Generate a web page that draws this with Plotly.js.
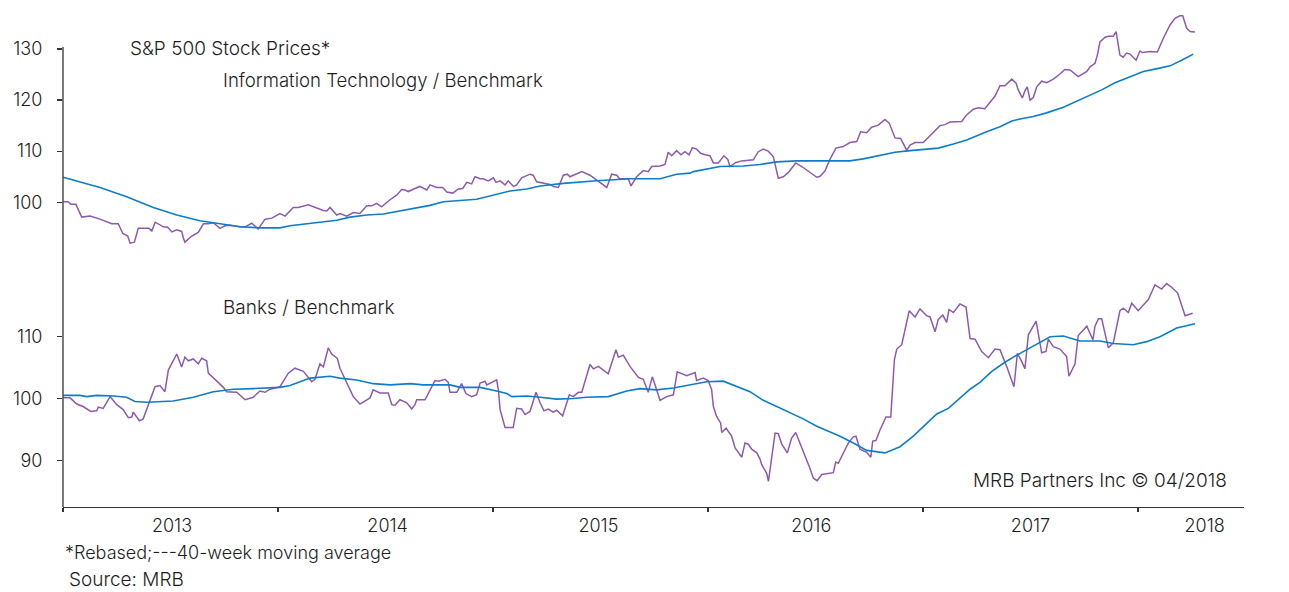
<!DOCTYPE html>
<html><head><meta charset="utf-8">
<script src="https://cdn.plot.ly/plotly-3.0.1.min.js"></script>
<style>html,body{margin:0;padding:0;background:#fff}#chart{width:1289px;height:592px}</style>
</head><body><div id="chart"></div><script>
// ---- Data (decimal years) ----
const itX = [2013.001,2013.023,2013.037,2013.060,2013.087,2013.126,2013.172,2013.227,2013.257,2013.278,2013.301,2013.312,2013.332,2013.350,2013.400,2013.413,2013.429,2013.467,2013.487,2013.506,2013.529,2013.552,2013.560,2013.567,2013.599,2013.629,2013.653,2013.676,2013.699,2013.730,2013.753,2013.777,2013.823,2013.847,2013.878,2013.908,2013.940,2013.971,
2014.009,2014.033,2014.071,2014.094,2014.141,2014.172,2014.211,2014.227,2014.242,2014.273,2014.288,2014.320,2014.350,2014.381,2014.413,2014.436,2014.459,2014.482,2014.521,2014.552,2014.575,2014.591,2014.606,2014.637,2014.660,2014.692,2014.707,2014.738,2014.766,2014.785,2014.813,2014.839,2014.859,2014.878,2014.901,2014.916,2014.940,2014.955,2014.978,
2015.002,2015.014,2015.033,2015.056,2015.071,2015.095,2015.110,2015.133,2015.172,2015.187,2015.203,2015.234,2015.265,2015.281,2015.304,2015.327,2015.346,2015.358,2015.413,2015.451,2015.482,2015.529,2015.552,2015.576,2015.588,2015.629,2015.642,2015.668,2015.699,2015.722,2015.738,2015.777,2015.800,2015.815,2015.831,2015.854,2015.874,2015.893,2015.912,2015.927,2015.947,2015.966,2015.986,
2016.009,2016.025,2016.048,2016.074,2016.092,2016.102,2016.130,2016.157,2016.211,2016.234,2016.257,2016.280,2016.304,2016.327,2016.350,2016.373,2016.408,2016.436,2016.467,2016.506,2016.521,2016.544,2016.567,2016.595,2016.629,2016.660,2016.692,2016.710,2016.738,2016.761,2016.792,2016.823,2016.843,2016.870,2016.896,2016.924,2016.940,2016.963,
2017.001,2017.025,2017.056,2017.079,2017.102,2017.126,2017.180,2017.203,2017.234,2017.257,2017.288,2017.312,2017.335,2017.358,2017.381,2017.413,2017.433,2017.443,2017.462,2017.474,2017.485,2017.498,2017.513,2017.529,2017.552,2017.575,2017.606,2017.637,2017.660,2017.684,2017.715,2017.722,2017.762,2017.777,2017.800,2017.811,2017.823,2017.847,2017.862,2017.885,2017.898,2017.916,2017.931,2017.947,2017.963,2017.991,
2018.009,2018.022,2018.056,2018.090,2018.118,2018.149,2018.172,2018.195,2018.208,2018.226,2018.242,2018.265];
const itValues = [100.1,100.1,99.6,99.6,97.1,97.3,96.7,95.8,95.8,93.9,93.4,92.0,92.2,94.9,94.9,94.4,96.1,95.2,95.1,94.2,94.6,94.3,93.0,92.2,93.4,94.1,95.8,95.8,96.0,94.9,95.4,95.5,95.2,95.2,95.9,94.8,96.7,96.9,
97.8,97.3,99.0,99.0,99.5,99.0,98.4,98.3,99.0,97.5,97.8,97.3,98.0,97.8,99.3,99.3,99.8,99.1,100.5,101.4,102.5,102.4,102.1,102.7,103.1,102.4,103.4,102.9,102.9,102.0,101.8,102.6,102.7,103.9,103.6,105.0,104.6,104.6,104.2,
104.8,103.9,104.2,103.4,104.2,103.1,103.4,104.8,105.5,105.3,104.0,103.8,103.5,103.1,102.9,105.3,105.5,105.0,106.0,105.3,104.4,102.9,105.5,105.3,104.6,104.6,103.2,105.0,106.2,106.0,107.0,107.1,107.4,109.8,109.1,110.1,109.3,109.9,109.3,110.7,110.4,109.6,109.3,
109.1,107.7,107.7,109.1,108.4,107.0,107.8,108.1,108.3,109.9,110.4,110.0,108.9,104.7,105.0,105.8,107.7,107.0,106.0,104.9,105.1,106.1,108.4,110.6,110.9,111.7,111.9,113.8,113.6,114.7,115.1,116.2,115.5,112.6,112.5,110.2,111.2,111.7,
111.7,112.7,114.0,115.0,115.2,115.7,115.8,117.1,118.2,118.5,118.3,119.7,120.8,122.8,122.8,124.1,123.3,122.0,120.4,121.8,122.6,120.0,120.5,122.6,123.7,123.4,124.1,125.1,126.0,125.9,124.9,124.6,125.6,126.5,127.2,128.8,131.4,132.3,132.5,132.5,133.4,128.8,128.4,129.2,129.0,127.8,
129.6,129.3,129.5,129.4,132.1,134.7,136.0,136.5,136.5,134.1,133.4,133.3];

const itMaX = [2013.001,2013.172,2013.296,2013.420,2013.529,2013.637,2013.715,2013.823,2013.916,
2014.009,2014.056,2014.180,2014.273,2014.335,2014.413,2014.490,2014.614,2014.707,2014.769,2014.924,
2015.079,2015.157,2015.219,2015.327,2015.482,2015.544,2015.637,2015.777,2015.854,2015.916,2015.932,
2016.056,2016.164,2016.242,2016.320,2016.413,2016.536,2016.660,2016.722,2016.831,2016.870,2016.940,
2017.071,2017.141,2017.203,2017.296,2017.358,2017.413,2017.451,2017.513,2017.575,2017.653,2017.699,2017.762,2017.831,2017.893,2017.963,
2018.025,2018.095,2018.149,2018.203,2018.257];
const itMaValues = [104.9,102.9,101.1,99.0,97.5,96.4,95.9,95.2,95.0,
95.0,95.4,96.1,96.5,97.1,97.5,97.7,98.6,99.4,100.1,100.6,
102.2,102.6,103.2,103.7,104.2,104.4,104.6,104.6,105.5,105.7,106.0,
107.0,107.1,107.4,107.9,108.1,108.1,108.1,108.5,109.4,109.8,110.1,
110.6,111.4,112.2,113.8,114.8,115.9,116.3,116.8,117.5,118.6,119.5,120.8,122.0,123.4,124.5,
125.6,126.2,126.7,127.8,129.0];

const bankX = [2013.001,2013.033,2013.064,2013.094,2013.129,2013.157,2013.164,2013.187,2013.219,2013.250,2013.280,2013.304,2013.320,2013.327,2013.355,2013.373,2013.428,2013.451,2013.474,2013.490,2013.529,2013.552,2013.567,2013.583,2013.606,2013.629,2013.645,2013.668,2013.676,2013.746,2013.761,2013.808,2013.847,2013.885,2013.916,2013.940,2013.963,
2014.009,2014.048,2014.079,2014.118,2014.157,2014.172,2014.195,2014.211,2014.234,2014.250,2014.276,2014.288,2014.320,2014.350,2014.381,2014.428,2014.443,2014.474,2014.513,2014.529,2014.544,2014.567,2014.599,2014.622,2014.637,2014.645,2014.684,2014.715,2014.730,2014.746,2014.777,2014.792,2014.800,2014.831,2014.854,2014.874,2014.901,2014.924,2014.940,2014.963,2014.971,
2015.017,2015.025,2015.033,2015.056,2015.094,2015.110,2015.133,2015.149,2015.172,2015.200,2015.219,2015.237,2015.257,2015.280,2015.296,2015.324,2015.355,2015.373,2015.397,2015.413,2015.451,2015.467,2015.490,2015.536,2015.572,2015.583,2015.606,2015.637,2015.676,2015.699,2015.722,2015.741,2015.761,2015.777,2015.808,2015.839,2015.857,2015.901,2015.940,2015.947,2015.978,
2016.001,2016.017,2016.025,2016.040,2016.059,2016.064,2016.084,2016.110,2016.126,2016.157,2016.172,2016.188,2016.203,2016.227,2016.242,2016.250,2016.273,2016.281,2016.304,2016.312,2016.327,2016.343,2016.369,2016.389,2016.408,2016.428,2016.451,2016.474,2016.490,2016.508,2016.529,2016.560,2016.583,2016.594,2016.606,2016.653,2016.676,2016.688,2016.707,2016.738,2016.757,2016.766,2016.781,2016.800,2016.828,2016.850,2016.867,2016.878,2016.901,2016.936,2016.963,2016.986,
2017.017,2017.033,2017.056,2017.071,2017.092,2017.110,2017.121,2017.141,2017.172,2017.200,2017.219,2017.242,2017.273,2017.304,2017.335,2017.358,2017.389,2017.423,2017.439,2017.459,2017.474,2017.490,2017.526,2017.552,2017.572,2017.583,2017.606,2017.637,2017.668,2017.679,2017.707,2017.722,2017.762,2017.790,2017.800,2017.816,2017.831,2017.862,2017.885,2017.916,2017.931,2017.955,2017.971,
2018.001,2018.048,2018.079,2018.110,2018.133,2018.156,2018.184,2018.219,2018.254];
const bankValues = [100.1,100.1,99.1,98.7,97.9,98.0,98.6,98.4,100.3,99.0,98.2,96.9,97.0,97.8,96.4,96.7,101.9,102.1,101.1,104.6,107.2,105.1,106.7,106.1,106.4,105.6,106.5,106.1,104.1,101.8,101.1,101.0,99.8,100.2,101.2,101.0,101.5,
101.9,104.1,104.9,104.4,102.7,103.1,105.6,105.1,108.2,107.2,106.5,104.9,102.5,100.3,99.1,100.1,101.4,100.9,100.9,99.0,98.9,99.8,99.3,98.3,99.0,99.8,99.8,101.9,102.9,102.8,103.1,102.6,101.0,101.0,102.4,100.8,100.3,100.6,102.5,102.8,102.2,
103.0,101.4,98.2,95.3,95.3,98.4,98.3,97.4,97.9,101.0,99.3,98.0,98.3,97.8,98.1,97.2,100.6,100.3,101.0,101.0,105.5,104.8,105.2,104.0,107.9,106.7,107.0,105.2,103.4,103.1,101.0,103.5,101.4,99.7,100.3,100.6,104.3,103.7,104.2,102.9,103.3,
102.9,101.4,98.7,97.1,96.0,94.5,95.2,93.9,92.0,90.5,92.8,92.6,91.8,91.2,90.2,89.3,87.9,86.6,92.9,94.4,94.3,92.6,91.2,93.6,94.5,92.8,90.6,88.7,87.1,86.7,87.7,87.9,88.0,89.7,89.5,92.8,93.8,93.9,91.8,91.3,90.5,93.1,93.2,94.9,97.0,97.0,106.3,108.0,108.7,114.2,113.2,114.5,
113.4,113.2,110.8,112.8,113.5,112.3,114.4,113.9,115.3,114.8,109.7,109.6,107.6,106.6,108.0,107.9,105.2,101.9,107.3,106.0,104.8,110.3,112.5,107.4,107.6,109.6,108.4,108.0,106.8,103.6,105.6,110.2,111.7,109.5,111.7,112.9,112.9,108.2,109.0,114.2,114.6,113.9,115.4,
114.2,116.0,118.4,117.7,118.6,118.0,117.1,113.4,113.8];

const bankMaX = [2013.001,2013.079,2013.110,2013.157,2013.234,2013.296,2013.335,2013.389,2013.513,2013.606,2013.699,2013.792,2013.885,
2014.009,2014.056,2014.149,2014.242,2014.288,2014.366,2014.443,2014.521,2014.614,2014.676,2014.800,2014.847,2014.940,
2015.017,2015.064,2015.087,2015.157,2015.219,2015.296,2015.373,2015.436,2015.536,2015.622,2015.684,2015.761,2015.839,2015.932,2015.994,
2016.071,2016.195,2016.257,2016.350,2016.443,2016.506,2016.614,2016.676,2016.738,2016.823,2016.893,2016.955,
2017.017,2017.064,2017.118,2017.172,2017.219,2017.265,2017.320,2017.374,2017.420,2017.483,2017.544,2017.591,2017.653,2017.730,2017.823,2017.885,2017.978,
2018.040,2018.102,2018.180,2018.265];
const bankMaValues = [100.5,100.5,100.3,100.5,100.4,100.2,99.5,99.4,99.6,100.2,101.1,101.5,101.6,
101.8,102.1,103.3,103.6,103.3,103.0,102.4,102.2,102.4,102.2,102.2,101.8,101.8,
101.2,100.8,100.3,100.4,100.2,99.9,100.0,100.2,100.3,101.2,101.6,101.4,101.7,102.3,102.7,
102.8,101.1,99.7,98.2,96.7,95.5,93.9,92.8,91.6,91.2,92.2,93.9,
96.0,97.5,98.4,100.1,101.5,102.6,104.4,105.7,106.7,107.9,109.1,110.0,110.1,109.3,109.3,108.9,108.7,
109.2,110.0,111.4,112.1];

// ---- Axis ticks / labels ----
const yearBounds = [2013, 2014, 2015, 2016, 2017, 2018];
const yearLabelPos = [2013.507, 2014.51, 2015.49, 2016.48, 2017.50, 2018.31];
const yearLabels = ['2013', '2014', '2015', '2016', '2017', '2018'];
const itTicks = [100, 110, 120, 130];
const itTickText = ['100', '110', '120', '130'];
const bankTicks = [90, 100, 110];
const bankTickText = ['\u00a090', '100', '110'];

// ---- Styling ----
const PURPLE = '#8c5bb0';
const BLUE = '#0e7dc9';
const AXIS = '#333333';
const FAMILY = 'Inter, "Liberation Sans", Arial, sans-serif';
const FONT = {family: FAMILY, size: 18, color: '#1e1e1e', weight: 300};
const TFONT = {family: FAMILY, size: 19, color: '#1e1e1e', weight: 300};
const IFONT = {family: FAMILY, size: 18.6, color: '#1e1e1e', weight: 300};
const IT_RANGE = [40.37, 138.02];
const BANK_RANGE = [82.44, 163.19];

const traces = [
  {x: itX, y: itValues, type: 'scatter', mode: 'lines', line: {color: PURPLE, width: 1.5}, xaxis: 'x', yaxis: 'y'},
  {x: itMaX, y: itMaValues, type: 'scatter', mode: 'lines', line: {color: BLUE, width: 1.6}, xaxis: 'x', yaxis: 'y'},
  {x: bankX, y: bankValues, type: 'scatter', mode: 'lines', line: {color: PURPLE, width: 1.5}, xaxis: 'x', yaxis: 'y2'},
  {x: bankMaX, y: bankMaValues, type: 'scatter', mode: 'lines', line: {color: BLUE, width: 1.6}, xaxis: 'x', yaxis: 'y2'}
];

function yAx(extra) {
  return Object.assign({
    showgrid: false, zeroline: false, showline: false, tickmode: 'array',
    tickfont: FONT, fixedrange: true
  }, extra);
}

const ann = (text, x, y, xanchor, font, yanchor) => ({text, x, y, xref: 'paper', yref: 'paper', xanchor: xanchor || 'left', yanchor: yanchor || 'middle', showarrow: false, font: font || TFONT});

const layout = {
  width: 1289, height: 592,
  margin: {l: 63, r: 45, t: 8, b: 85},
  paper_bgcolor: '#ffffff', plot_bgcolor: '#ffffff',
  showlegend: false, font: FONT,
  xaxis: {
    range: [2013, 2018.493], showgrid: false, zeroline: false,
    showline: true, linecolor: AXIS, linewidth: 1.3,
    tickmode: 'array', tickvals: yearLabelPos, ticktext: yearLabels, ticks: '',
    tickfont: FONT, ticklabelstandoff: 2,
    minor: {tickmode: 'array', tickvals: yearBounds, ticks: 'outside', ticklen: 4, tickwidth: 1.3, tickcolor: AXIS, showgrid: false}
  },
  yaxis: yAx({range: IT_RANGE, tickvals: itTicks, ticktext: itTickText, ticks: 'outside', ticklen: 5, tickwidth: 1.3, tickcolor: AXIS, ticklabelstandoff: 11}),
  yaxis2: yAx({range: BANK_RANGE, overlaying: 'y', side: 'left', anchor: 'x', tickvals: bankTicks, ticktext: bankTickText, ticks: 'outside', ticklen: 5, tickwidth: 1.3, tickcolor: AXIS, ticklabelstandoff: 11}),
  yaxis3: yAx({range: IT_RANGE, overlaying: 'y', side: 'right', anchor: 'x', tickvals: itTicks, ticktext: itTickText, ticks: '', ticklabelstandoff: 10}),
  yaxis4: yAx({range: BANK_RANGE, overlaying: 'y', side: 'right', anchor: 'x', tickvals: bankTicks, ticktext: bankTickText, ticks: '', ticklabelstandoff: 10}),
  shapes: [{type: 'line', xref: 'paper', yref: 'paper', x0: 0, x1: 0, y0: 0, y1: 0.9218, line: {color: AXIS, width: 1.3}}],
  annotations: [
    ann('S&P 500 Stock Prices*', 0.0550, 0.9198),
    ann('Information Technology / Benchmark', 0.1338, 0.8557, 'left', IFONT),
    ann('Banks / Benchmark', 0.1338, 0.3998),
    ann('MRB Partners Inc \u00a9 04/2018', 0.9873, 0.0531, 'right'),
    ann('*Rebased;---40-week moving average', 0.0, -0.0902, 'left', FONT),
    ann('Source: MRB', 0.0034, -0.1723, 'left', TFONT, 'bottom')
  ]
};

Plotly.newPlot('chart', traces, layout, {staticPlot: true, displayModeBar: false});
</script></body></html>
